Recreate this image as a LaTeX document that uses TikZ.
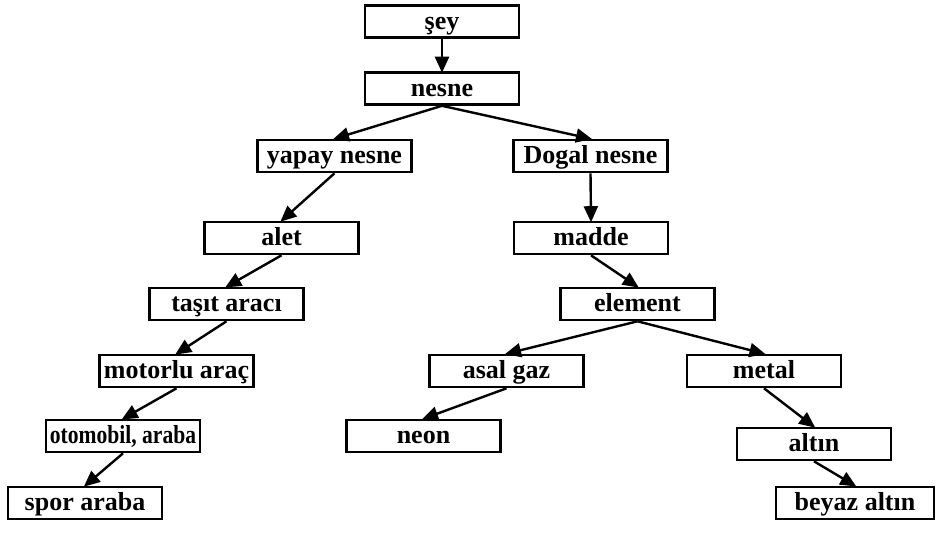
\documentclass[tikz,border=0pt]{standalone}
\usepackage{fontspec}
\setmainfont{Liberation Serif}
\usetikzlibrary{arrows.meta}
\begin{document}
\begin{tikzpicture}[x=1pt,y=-1pt,
  box/.style={draw, line width=2.6pt, minimum width=154pt, minimum height=32pt, inner sep=0pt,
    text height=19.5pt, text depth=4.5pt,
    font=\fontsize{26}{26}\selectfont\bfseries},
  conn/.style={line width=2.4pt, -{Triangle[length=16pt,width=14pt]}, shorten >=-1.5pt}]
\useasboundingbox (0,0) rectangle (947,533);
\node[box] (sey) at (442,21.5) {şey};
\node[box] (nesne) at (442,88.5) {nesne};
\node[box] (yapay) at (334.5,156) {yapay nesne};
\node[box] (dogal) at (590.5,156) {Dogal nesne};
\node[box] (alet) at (281.5,238) {alet};
\node[box] (madde) at (591,238) {madde};
\node[box] (tasit) at (226.5,304) {taşıt aracı};
\node[box] (element) at (637.5,304) {element};
\node[box] (motorlu) at (176.5,371) {motorlu araç};
\node[box] (asal) at (506.5,371) {asal gaz};
\node[box] (metal) at (764,371) {metal};
\node[box] (otomobil) at (123,436) {\scalebox{0.83}[1]{otomobil, araba}};
\node[box] (neon) at (423.5,436) {neon};
\node[box] (altin) at (814,444) {altın};
\node[box] (spor) at (85,503) {spor araba};
\node[box, minimum width=158pt] (beyaz) at (855,503) {beyaz altın};
\draw[conn] (sey.south) -- (nesne.north);
\draw[conn] (nesne.south) -- (yapay.north);
\draw[conn] (nesne.south) -- (dogal.north);
\draw[conn] (yapay.south) -- (alet.north);
\draw[conn] (alet.south) -- (tasit.north);
\draw[conn] (tasit.south) -- (motorlu.north);
\draw[conn] (motorlu.south) -- (otomobil.north);
\draw[conn] (otomobil.south) -- (spor.north);
\draw[conn] (dogal.south) -- (madde.north);
\draw[conn] (madde.south) -- (element.north);
\draw[conn] (element.south) -- (asal.north);
\draw[conn] (element.south) -- (metal.north);
\draw[conn] (asal.south) -- (neon.north);
\draw[conn] (metal.south) -- (altin.north);
\draw[conn] (altin.south) -- (beyaz.north);
\end{tikzpicture}
\end{document}
